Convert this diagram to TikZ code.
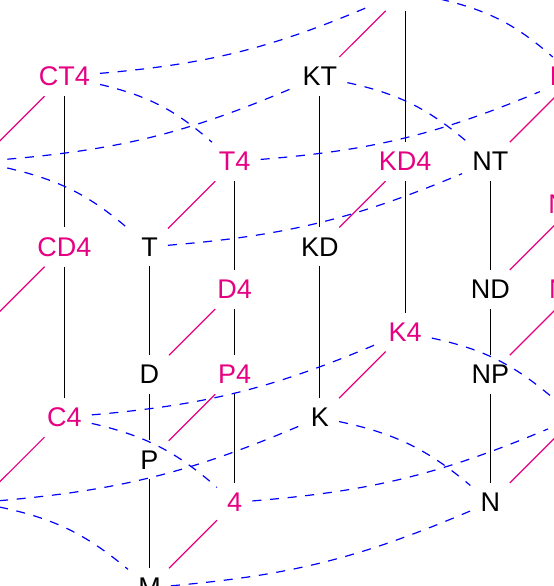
\documentclass[tikz,border=0pt]{standalone}
\usepackage{fontspec}
\setmainfont{Liberation Sans}
\definecolor{pk}{RGB}{230,0,130}
\begin{document}
\begin{tikzpicture}[x=85.2pt,y=85.2pt,
  every node/.style={font=\fontsize{27}{32}\selectfont, inner sep=10pt},
  bk/.style={text=black},
  pn/.style={text=pk},
  vline/.style={black, line width=1pt},
  dline/.style={pk, line width=1.2pt},
  arcline/.style={blue, line width=1.2pt, dash pattern=on 9pt off 8.7pt},
  lng/.style={arcline, bend right=9},
  sht/.style={arcline, bend left=14}]
\useasboundingbox (-1.7547,0.02) rectangle (4.7477,6.898);
% black nodes
\node[bk] (M)  at (0,0)   {M};
\node[bk] (P)  at (0,1.5) {P};
\node[bk] (D)  at (0,2.5) {D};
\node[bk] (T)  at (0,4)   {T};
\node[bk] (K)  at (2,2)   {K};
\node[bk] (KD) at (2,4)   {KD};
\node[bk] (KT) at (2,6)   {KT};
\node[bk] (N)  at (4,1)   {N};
\node[bk] (NP) at (4,2.5) {NP};
\node[bk] (ND) at (4,3.5) {ND};
\node[bk] (NT) at (4,5)   {NT};
\node[bk] (C)  at (-2,1)  {C};
\node[bk] (CD) at (-2,3)  {CD};
\node[bk] (CT) at (-2,5)  {CT};
% pink nodes
\node[pn] (M4)  at (1,1)   {4};
\node[pn] (P4)  at (1,2.5) {P4};
\node[pn] (D4)  at (1,3.5) {D4};
\node[pn] (T4)  at (1,5)   {T4};
\node[pn] (K4)  at (3,3)   {K4};
\node[pn] (KD4) at (3,5)   {KD4};
\node[pn] (KT4) at (3,7)   {KT4};
\node[pn] (N4)  at (5,2)   {N4};
\node[pn] (NP4) at (5,3.5) {NP4};
\node[pn] (ND4) at (5,4.5) {ND4};
\node[pn] (NT4) at (5,6)   {NT4};
\node[pn] (C4)  at (-1,2)  {C4};
\node[pn] (CD4) at (-1,4)  {CD4};
\node[pn] (CT4) at (-1,6)  {CT4};
% vertical lines
\draw[vline] (CT4) -- (CD4) -- (C4);
\draw[vline] (T) -- (D) -- (P) -- (M);
\draw[vline] (T4) -- (D4) -- (P4) -- (M4);
\draw[vline] (KT) -- (KD) -- (K);
\draw[vline] (KT4) -- (KD4) -- (K4);
\draw[vline] (NT) -- (ND) -- (NP) -- (N);
% pink diagonals
\foreach \a/\b in {M/M4,P/P4,D/D4,T/T4,K/K4,KD/KD4,KT/KT4,N/N4,NP/NP4,ND/ND4,NT/NT4,C/C4,CD/CD4,CT/CT4}
  \draw[dline] (\a) -- (\b);
% dashed arcs, top
\draw[lng] (CT4) to (KT4);
\draw[sht] (KT4) to (NT4);
\draw[sht] (CT4) to (T4);
\draw[lng] (T4) to (NT4);
\draw[lng] (CT) to (KT);
\draw[sht] (KT) to (NT);
\draw[sht] (CT) to (T);
\draw[lng] (T) to (NT);
% dashed arcs, bottom
\draw[lng] (C4) to (K4);
\draw[sht] (K4) to (N4);
\draw[sht] (C4) to (M4);
\draw[lng] (M4) to (N4);
\draw[lng] (C) to (K);
\draw[sht] (K) to (N);
\draw[sht] (C) to (M);
\draw[lng] (M) to (N);
\end{tikzpicture}
\end{document}
